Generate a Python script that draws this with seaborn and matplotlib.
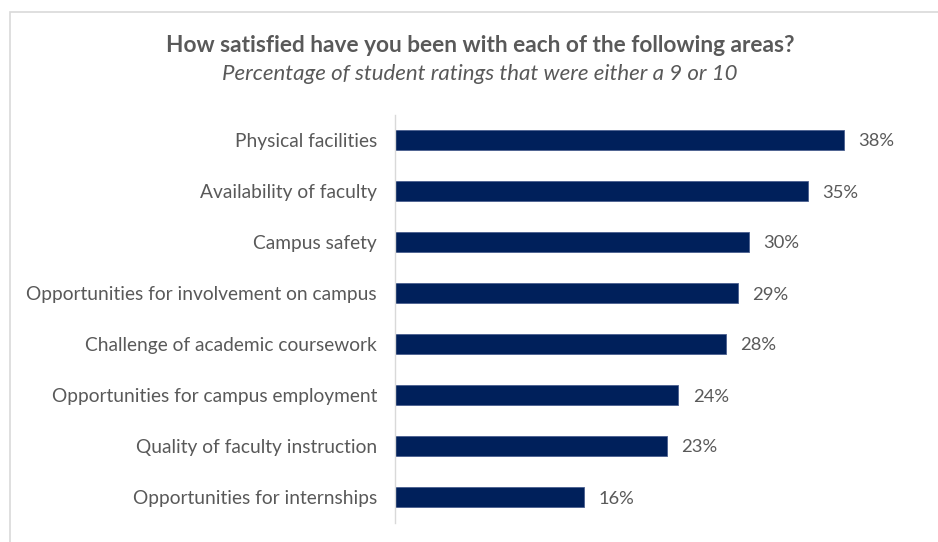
import matplotlib
matplotlib.use("Agg")
import matplotlib.pyplot as plt
import seaborn as sns
import pandas as pd
from matplotlib.patches import Rectangle

categories = [
    "Physical facilities",
    "Availability of faculty",
    "Campus safety",
    "Opportunities for involvement on campus",
    "Challenge of academic coursework",
    "Opportunities for campus employment",
    "Quality of faculty instruction",
    "Opportunities for internships",
]
values = [38, 35, 30, 29, 28, 24, 23, 16]

title = "How satisfied have you been with each of the following areas?"
subtitle = "Percentage of student ratings that were either a 9 or 10"

bar_color = "#00205b"
text_color = "#595959"

sns.set_theme(style="white")
plt.rcParams["font.family"] = ["Lato", "DejaVu Sans"]

df = pd.DataFrame({"area": categories, "pct": values})

fig = plt.figure(figsize=(9.38, 5.42), dpi=100)
W, H = 938, 542
ax = fig.add_axes([395 / W, 1 - 522.5 / H, (910 - 395) / W, (522.5 - 114.5) / H])

sns.barplot(data=df, x="pct", y="area", color=bar_color, width=0.41,
            saturation=1, ax=ax, edgecolor="#4a5f8f", linewidth=0.6)

ax.set_xlim(0, 43.6)
ax.set_xlabel("")
ax.set_ylabel("")
ax.set_xticks([])
for s in ["top", "right", "bottom"]:
    ax.spines[s].set_visible(False)
ax.spines["left"].set_color("#d9d9d9")
ax.spines["left"].set_linewidth(1.0)
ax.tick_params(axis="y", length=0, pad=13, labelsize=13.8, labelcolor=text_color)

for i, v in enumerate(values):
    ax.text(v + 1.2, i, f"{v}%", va="center_baseline", ha="left", fontsize=13.2,
            color=text_color)

fig.text(480 / W, 1 - 46 / H, title, ha="center", va="center", fontsize=16.3,
         fontweight="bold", color=text_color)
fig.text(480 / W, 1 - 74 / H, subtitle, ha="center", va="center", fontsize=16,
         style="italic", color=text_color)

# light outer frame
fig.add_artist(Rectangle((10 / W, -0.1), 1.2, 1 - 12 / H + 0.1, transform=fig.transFigure,
                         fill=False, edgecolor="#d9d9d9", linewidth=1.2))

fig.savefig("out.png", dpi=100)
